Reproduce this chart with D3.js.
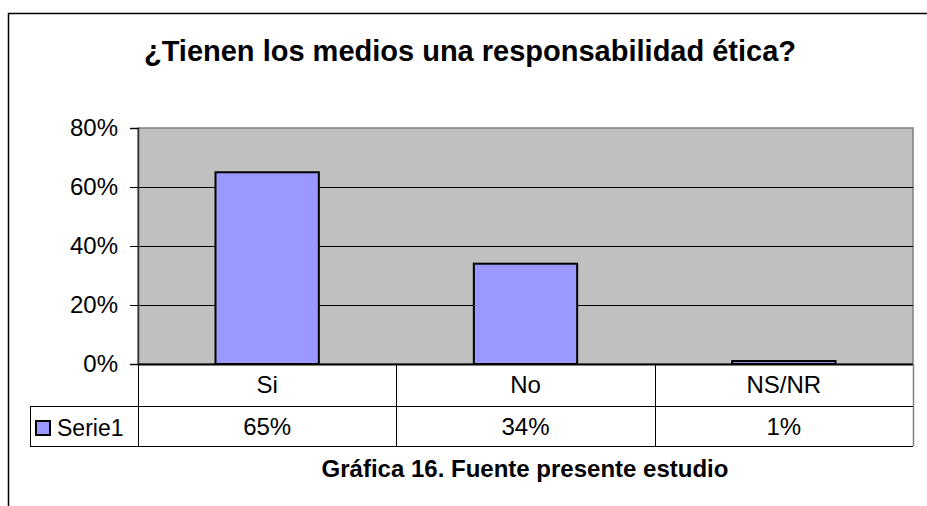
<!DOCTYPE html>
<html>
<head>
<meta charset="utf-8">
<script src="https://cdn.jsdelivr.net/npm/d3@7"></script>
<style>
  body { margin: 0; background: #fff; }
  svg { display: block; font-family: Arial, "Liberation Sans", sans-serif; }
</style>
</head>
<body>
<div id="chart"></div>
<script>
var categories = ["Si", "No", "NS/NR"];
var values = [0.65, 0.34, 0.01];
var valueLabels = ["65%", "34%", "1%"];
var yTicks = [0, 0.2, 0.4, 0.6, 0.8];
var seriesName = "Serie1";

(function() {
    var width = 927,
        height = 506;

    var svg = d3.select("#chart")
        .append("svg")
        .attr("width", width)
        .attr("height", height);

    // outer chart border (right and bottom fall off the page)
    svg.append("path")
        .attr("d", "M8.5," + height + "V13.5H" + (width + 2))
        .attr("fill", "none")
        .attr("stroke", "#000")
        .attr("stroke-width", 1.5);

    var plot = { left: 138, right: 913, top: 128, bottom: 364 };

    var x = d3.scaleBand()
        .domain(categories)
        .range([plot.left, plot.right])
        .paddingInner(0.6)
        .paddingOuter(0.3);

    var xCell = d3.scaleBand()
        .domain(categories)
        .range([plot.left, plot.right]);

    var y = d3.scaleLinear()
        .domain([0, 0.8])
        .range([plot.bottom, plot.top]);

    // title
    svg.append("text")
        .attr("x", 470)
        .attr("y", 61)
        .attr("text-anchor", "middle")
        .attr("font-size", 29)
        .attr("font-weight", "bold")
        .text("¿Tienen los medios una responsabilidad ética?");

    // plot background
    svg.append("rect")
        .attr("x", plot.left)
        .attr("y", plot.top)
        .attr("width", plot.right - plot.left)
        .attr("height", plot.bottom - plot.top)
        .attr("fill", "#C0C0C0")
        .attr("stroke", "#808080")
        .attr("stroke-width", 1.5);

    // gridlines
    svg.selectAll(".grid")
        .data(yTicks.filter(function(d) { return d > 0 && d < 0.8; }))
        .enter().append("line")
        .attr("class", "grid")
        .attr("x1", plot.left)
        .attr("x2", plot.right)
        .attr("y1", function(d) { return Math.round(y(d)) + 0.5; })
        .attr("y2", function(d) { return Math.round(y(d)) + 0.5; })
        .attr("stroke", "#000")
        .attr("stroke-width", 1);

    // y axis
    var yAxis = d3.axisLeft(y)
        .tickValues(yTicks)
        .tickFormat(d3.format(".0%"))
        .tickSize(8)
        .tickPadding(12);

    var gy = svg.append("g")
        .attr("transform", "translate(" + plot.left + ",0)")
        .call(yAxis);
    gy.select(".domain").attr("stroke", "#333").attr("stroke-width", 1.5);
    gy.selectAll(".tick line").attr("stroke", "#000");
    gy.selectAll(".tick text")
        .attr("font-size", 24)
        .attr("font-family", "Arial, 'Liberation Sans', sans-serif")
        .attr("fill", "#000");

    // bars
    svg.selectAll(".bar")
        .data(values)
        .enter().append("rect")
        .attr("class", "bar")
        .attr("x", function(d, i) { return x(categories[i]); })
        .attr("width", x.bandwidth())
        .attr("y", function(d) { return y(d); })
        .attr("height", function(d) { return y(0) - y(d); })
        .attr("fill", "#9999FF")
        .attr("stroke", "#000")
        .attr("stroke-width", 2);

    // data table
    var row1 = plot.bottom,
        row2 = 406,
        row3 = 446,
        legendLeft = 30;

    var table = svg.append("g")
        .attr("stroke", "#000")
        .attr("stroke-width", 1);

    table.append("line")
        .attr("x1", plot.left).attr("x2", plot.right)
        .attr("y1", row1 + 0.5).attr("y2", row1 + 0.5)
        .attr("stroke-width", 2);
    table.append("line")
        .attr("x1", legendLeft).attr("x2", plot.right)
        .attr("y1", row2 + 0.5).attr("y2", row2 + 0.5);
    table.append("line")
        .attr("x1", legendLeft).attr("x2", plot.right)
        .attr("y1", row3 + 0.5).attr("y2", row3 + 0.5);
    table.append("line")
        .attr("x1", legendLeft + 0.5).attr("x2", legendLeft + 0.5)
        .attr("y1", row2).attr("y2", row3);

    table.selectAll(".vline")
        .data(categories.slice(1))
        .enter().append("line")
        .attr("class", "vline")
        .attr("x1", function(d) { return Math.round(xCell(d)) + 0.5; })
        .attr("x2", function(d) { return Math.round(xCell(d)) + 0.5; })
        .attr("y1", row1)
        .attr("y2", row3);
    table.append("line")
        .attr("x1", plot.left + 0.5).attr("x2", plot.left + 0.5)
        .attr("y1", row1).attr("y2", row3);
    table.append("line")
        .attr("x1", plot.right + 0.5).attr("x2", plot.right + 0.5)
        .attr("y1", row1).attr("y2", row3)
        .attr("stroke", "#808080")
        .attr("stroke-width", 1.5);

    svg.selectAll(".catLabel")
        .data(categories)
        .enter().append("text")
        .attr("class", "catLabel")
        .attr("x", function(d) { return xCell(d) + xCell.bandwidth() / 2; })
        .attr("y", 393)
        .attr("text-anchor", "middle")
        .attr("font-size", 24)
        .text(function(d) { return d; });

    svg.selectAll(".valLabel")
        .data(valueLabels)
        .enter().append("text")
        .attr("class", "valLabel")
        .attr("x", function(d, i) { return xCell(categories[i]) + xCell.bandwidth() / 2; })
        .attr("y", 435)
        .attr("text-anchor", "middle")
        .attr("font-size", 24)
        .text(function(d) { return d; });

    // legend key
    svg.append("rect")
        .attr("x", 36)
        .attr("y", 421)
        .attr("width", 14)
        .attr("height", 14)
        .attr("fill", "#9999FF")
        .attr("stroke", "#000")
        .attr("stroke-width", 2);

    svg.append("text")
        .attr("x", 57)
        .attr("y", 436)
        .attr("font-size", 23)
        .text(seriesName);

    // caption
    svg.append("text")
        .attr("x", 525)
        .attr("y", 477)
        .attr("text-anchor", "middle")
        .attr("font-size", 24)
        .attr("font-weight", "bold")
        .text("Gráfica 16. Fuente presente estudio");
})();
</script>
</body>
</html>
